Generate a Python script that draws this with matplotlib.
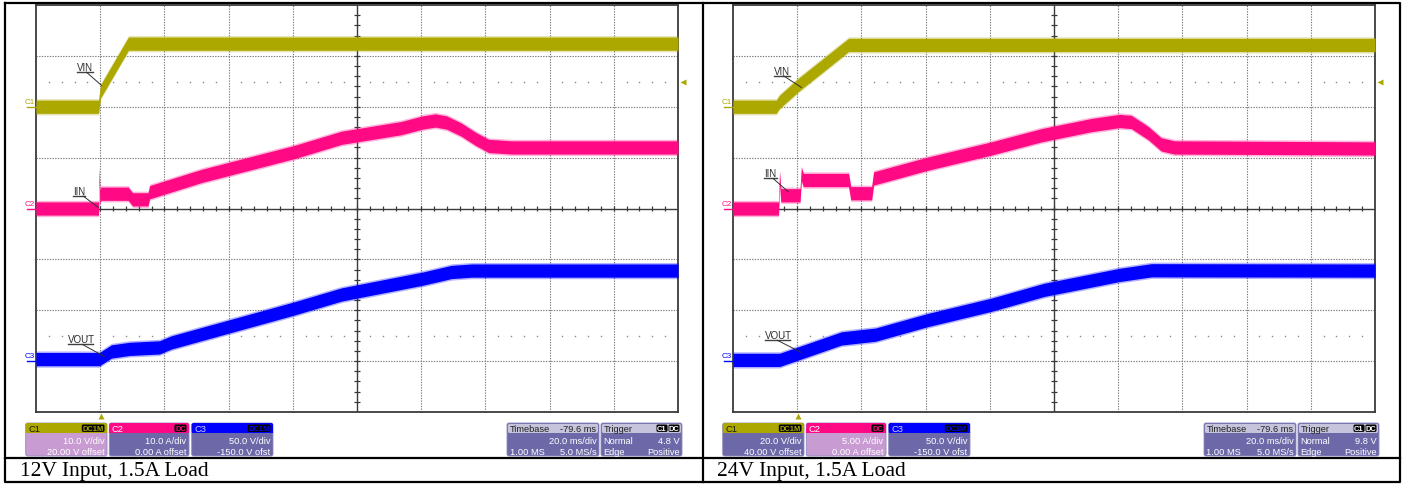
import matplotlib
matplotlib.use("Agg")
import matplotlib.pyplot as plt
from matplotlib.patches import FancyBboxPatch, Rectangle
import numpy as np

# ---------------- data ----------------
captions = ["12V Input, 1.5A Load", "24V Input, 1.5A Load"]

# channel settings
c1_scale = [10.0, 20.0]      # V/div
c1_offset = [20.0, 40.0]     # V
c2_scale = [10.0, 5.00]      # A/div
c2_offset = [0.0, 0.0]       # A
c3_scale = [50.0, 50.0]      # V/div
c3_offset = [-150.0, -150.0] # V
trig_level = [4.8, 9.8]      # V on C1
time_per_div = 20.0          # ms/div
delay = -79.6                # ms
aux_level_div = -2.5

c1_texts = [["10.0 V/div", "20.00 V offset"], ["20.0 V/div", "40.00 V offset"]]
c2_texts = [["10.0 A/div", "0.00 A offset"], ["5.00 A/div", "0.00 A offset"]]
c3_texts = [["50.0 V/div", "-150.0 V ofst"], ["50.0 V/div", "-150.0 V ofst"]]
tb_texts = ["-79.6 ms", "20.0 ms/div", "1.00 MS", "5.0 MS/s"]
trig_texts = [["Normal", "4.8 V", "Edge", "Positive"], ["Normal", "9.8 V", "Edge", "Positive"]]
selected = [0, 1]  # highlighted channel box (C1 left, C2 right)

# 12 V input traces (time in ms relative to trigger)
t_vin_12 = [-20.4, -0.9, -0.3, 8.4, 179.6]
vin_12 = [0.0, 0.0, 3.0, 12.4, 12.4]
t_iin_12 = [-20.4, -0.9, -0.7, -0.5, -0.2, 8.3, 9.7, 14.5, 15.0, 31.2, 60.1, 74.8,
            93.4, 100.0, 104.0, 107.5, 112.1, 116.5, 120.6, 127.7, 179.6]
iin_12 = [0.0, 0.0, 6.6, 2.2, 2.9, 2.9, 1.8, 1.8, 3.2, 6.4, 11.1, 13.9,
          15.8, 16.9, 17.3, 16.9, 15.5, 13.7, 12.3, 12.0, 12.0]
t_vout_12 = [-20.4, -0.6, 3.1, 8.7, 18.1, 21.8, 60.1, 74.8, 100.3, 109.0, 115.3, 179.6]
vout_12 = [2.0, 2.0, 9.5, 12.0, 13.5, 18.4, 51.8, 65.5, 81.2, 87.6, 89.0, 89.0]

# 24 V input traces
t_vin_24 = [-20.4, -6.9, -6.0, 0.0, 15.6, 179.6]
vin_24 = [0.0, 0.0, 1.8, 8.6, 24.3, 24.3]
t_iin_24 = [-20.4, -6.2, -5.9, -5.5, 0.5, 0.9, 1.5, 15.6, 16.3, 22.8, 23.4, 40.2,
            60.1, 75.7, 91.3, 100.0, 103.7, 109.0, 113.0, 117.1, 179.6]
iin_24 = [0.0, 0.0, 3.0, 1.3, 1.3, 3.4, 2.8, 2.8, 1.5, 1.5, 2.95, 4.4,
          5.9, 7.2, 8.2, 8.6, 8.5, 7.4, 6.3, 6.0, 5.9]
t_vout_24 = [-20.4, -5.9, 0.0, 13.4, 24.0, 40.2, 60.1, 76.5, 100.0, 110.0, 179.6]
vout_24 = [1.2, 1.2, 7.6, 22.3, 26.0, 40.3, 55.4, 70.0, 84.7, 89.3, 89.0]

traces = [
    [(t_vin_12, vin_12), (t_iin_12, iin_12), (t_vout_12, vout_12)],
    [(t_vin_24, vin_24), (t_iin_24, iin_24), (t_vout_24, vout_24)],
]

# ---------------- style ----------------
C1c, C2c, C3c = "#aca800", "#ff0a84", "#0000ff"
BOX = "#6d69a9"
BOX_SEL = "#c89bd2"
HDR_LIGHT = "#c5c4dc"
GRID = "#7a7a7a"
AXC = "#3a3a3a"
SANS = "Liberation Sans"
HALF = 0.13  # half band thickness, div
FS = 6.7     # info box text size

W, H = 1405, 485
fig = plt.figure(figsize=(W / 100, H / 100), dpi=100)
canvas = fig.add_axes([0, 0, 1, 1])
canvas.set_xlim(0, W)
canvas.set_ylim(H, 0)
canvas.axis("off")


def px_axes(x0, y0, x1, y1):
    return fig.add_axes([x0 / W, (H - y1) / H, (x1 - x0) / W, (y1 - y0) / H])


def rbox(x, y, w, h, fc, r=2.0, ec="none", lw=0.0, z=2):
    canvas.add_patch(FancyBboxPatch((x, y), w, h, boxstyle=f"round,pad=0,rounding_size={r}",
                                    fc=fc, ec=ec, lw=lw, zorder=z))


def txt(x, y, s, ha, color, size=FS, **kw):
    canvas.text(x, y, s, ha=ha, va="center", fontsize=size, color=color, family=SANS,
                zorder=kw.pop("zorder", 4), **kw)


def chan_box(x0, x1, name, hdr_c, name_c, badge, lines, body_c):
    w = x1 - x0
    rbox(x0, 424, w, 33, body_c, ec="#8d8abf", lw=0.6)
    rbox(x0, 424, w, 10, hdr_c, z=3)
    canvas.add_patch(Rectangle((x0, 429), w, 5, fc=hdr_c, ec="none", zorder=3))
    txt(x0 + 2.5, 429.3, name, "left", name_c)
    bw = 5.3 * len(badge) + 1.5
    rbox(x1 - 2.5 - bw, 425.5, bw, 7.4, "black", r=1.5, z=4)
    txt(x1 - 2.5 - bw / 2, 429.3, badge, "center", hdr_c, size=5.4, weight="bold", zorder=5)
    txt(x1 - 2.5, 441.5, lines[0], "right", "white")
    txt(x1 - 2.5, 452.6, lines[1], "right", "white")


gx0 = [36, 733]
box_dx = [0, 697]
labels_pos = [
    # (text, text x, text y, underline x0, x1, y, leader from, leader to)  in (ms, div)
    [("VIN", -7.5, 2.78, -7.6, -2.6, 2.68, (-4.7, 2.68), (0.0, 2.42)),
     ("IIN", -8.8, 0.35, -8.9, -5.2, 0.245, (-5.7, 0.245), (-1.0, 0.02)),
     ("VOUT", -10.3, -2.56, -10.4, -2.6, -2.67, (-6.0, -2.67), (0.9, -2.91))],
    [("VIN", -7.5, 2.71, -7.6, -2.6, 2.61, (-4.7, 2.61), (0.9, 2.38)),
     ("IIN", -10.7, 0.69, -10.8, -6.8, 0.59, (-7.9, 0.59), (-3.2, 0.33)),
     ("VOUT", -10.3, -2.49, -10.4, -2.6, -2.59, (-6.6, -2.59), (0.9, -2.83))],
]

for i in range(2):
    center = -delay
    xmin, xmax = center - 5 * time_per_div, center + 5 * time_per_div
    ax = px_axes(gx0[i], 6, gx0[i] + 642, 413)
    ax.set_xlim(xmin, xmax)
    ax.set_ylim(-4, 4)
    ax.set_xticks([])
    ax.set_yticks([])
    ax.patch.set_alpha(0)
    for s in ax.spines.values():
        s.set_color(AXC)
        s.set_linewidth(1.3)

    # graticule
    for k in range(1, 10):
        x = xmin + k * time_per_div
        if k != 5:
            ax.axvline(x, color=GRID, lw=0.8, ls=(0, (1.2, 1.2)), zorder=1)
    for y in range(-3, 4):
        if y != 0:
            ax.axhline(y, color=GRID, lw=0.8, ls=(0, (1.2, 1.2)), zorder=1)
    ax.axhline(0, color=AXC, lw=1.0, zorder=1)
    ax.axvline(center, color=AXC, lw=1.0, zorder=1)
    minor_t = xmin + time_per_div * 0.2 * np.arange(1, 50)
    ax.vlines(minor_t, -0.055, 0.055, color=AXC, lw=0.9, zorder=1)
    minor_y = -4 + 0.2 * np.arange(1, 40)
    ax.hlines(minor_y, center - 0.85, center + 0.85, color=AXC, lw=0.9, zorder=1)

    # sparse dotted level lines
    k = np.arange(1, 50)
    dots_t = (xmin + time_per_div * 0.2 * k)[k % 5 != 0]
    trig_div = (trig_level[i] + c1_offset[i]) / c1_scale[i]
    for yl in (trig_div, aux_level_div):
        ax.plot(dots_t, np.full(dots_t.shape, yl), ls="none", marker="s", ms=1.0,
                mec="none", mfc="#8a8a8a", zorder=1)

    # traces
    scales = [c1_scale[i], c2_scale[i], c3_scale[i]]
    offsets = [c1_offset[i], c2_offset[i], c3_offset[i]]
    colors = [C1c, C2c, C3c]
    for (t, v), sc, off, col in zip(traces[i], scales, offsets, colors):
        t = np.asarray(t)
        s = (np.asarray(v) + off) / sc
        ax.fill_between(t, s - HALF - 0.03, s + HALF + 0.03, color=col, alpha=0.3, lw=0, zorder=3)
        ax.fill_between(t, s - HALF, s + HALF, color=col, lw=0, zorder=4)

    # channel ground markers
    for name, sc, off, col in zip(["C1", "C2", "C3"], scales, offsets, colors):
        g = off / sc
        ax.plot([xmin - 2.7, xmin], [g, g], color=col, lw=1.0, clip_on=False, zorder=5)
        ax.annotate(name, xy=(xmin, g), xytext=(-1, 2), textcoords="offset pixels",
                    ha="right", va="bottom", fontsize=5.8, color=col, family=SANS,
                    annotation_clip=False)

    # trigger markers
    ax.plot([xmax + 1.5], [trig_div], marker="<", ms=4.5, color=C1c, mec="none",
            clip_on=False, zorder=5)
    ax.plot([0.0], [-4.085], marker="^", ms=5, color=C1c, mec="none", clip_on=False, zorder=5)

    # trace labels
    for (s_, tx, ty, u0, u1, uy, p0, p1) in labels_pos[i]:
        ax.text(tx, ty, s_, ha="left", va="center", fontsize=7, color="#303030",
                family=SANS, zorder=6)
        ax.plot([u0, u1], [uy, uy], color="#404040", lw=1.0, zorder=6)
        ax.plot([p0[0], p1[0]], [p0[1], p1[1]], color="#303030", lw=0.7, zorder=6)

    # info boxes
    dx = box_dx[i]
    bodies = [BOX_SEL if selected[i] == j else BOX for j in range(3)]
    chan_box(25.7 + dx, 107 + dx, "C1", C1c, "#1a1a00", "DC1M", c1_texts[i], bodies[0])
    chan_box(109.3 + dx, 189 + dx, "C2", C2c, "white", "DC", c2_texts[i], bodies[1])
    chan_box(191.7 + dx, 273 + dx, "C3", C3c, "#d0d0ff", "DC1M", c3_texts[i], bodies[2])

    # timebase box
    x0, x1 = 507 + dx, 599 + dx
    rbox(x0, 424, x1 - x0, 33, BOX, ec="#8d8abf", lw=0.6)
    rbox(x0 + 1, 425, x1 - x0 - 2, 9, HDR_LIGHT, r=1.5, z=3)
    txt(x0 + 2.5, 429.3, "Timebase", "left", "#202020")
    txt(x1 - 2.5, 429.3, tb_texts[0], "right", "#202020")
    txt(x1 - 2.5, 441.5, tb_texts[1], "right", "white")
    txt(x0 + 2.5, 452.6, tb_texts[2], "left", "white")
    txt(x1 - 2.5, 452.6, tb_texts[3], "right", "white")

    # trigger box
    x0, x1 = 601 + dx, 682 + dx
    rbox(x0, 424, x1 - x0, 33, BOX, ec="#8d8abf", lw=0.6)
    rbox(x0 + 1, 425, x1 - x0 - 2, 9, HDR_LIGHT, r=1.5, z=3)
    txt(x0 + 2.5, 429.3, "Trigger", "left", "#202020")
    for bx, btxt in ((x1 - 2.5 - 11, "DC"), (x1 - 2.5 - 23, "C1")):
        rbox(bx, 425.5, 11, 7.4, "black", r=1.5, z=4)
        txt(bx + 5.5, 429.3, btxt, "center", "white", size=5.4, weight="bold", zorder=5)
    tt = trig_texts[i]
    txt(x0 + 2.5, 441.5, tt[0], "left", "white")
    txt(x1 - 2.5, 441.5, tt[1], "right", "white")
    txt(x0 + 2.5, 452.6, tt[2], "left", "white")
    txt(x1 - 2.5, 452.6, tt[3], "right", "white")

    # caption
    canvas.text(20 + dx, 471.5, captions[i], ha="left", va="center", fontsize=15.5,
                family="Liberation Serif", color="black")

# table borders
bk = dict(color="black", lw=1.6, solid_capstyle="projecting")
canvas.plot([5, 1400, 1400, 5, 5], [3.5, 3.5, 483, 483, 3.5], **bk)
canvas.plot([703, 703], [3.5, 483], **bk)
canvas.plot([5, 1400], [458.5, 458.5], **bk)

fig.savefig("out.png", dpi=100)
